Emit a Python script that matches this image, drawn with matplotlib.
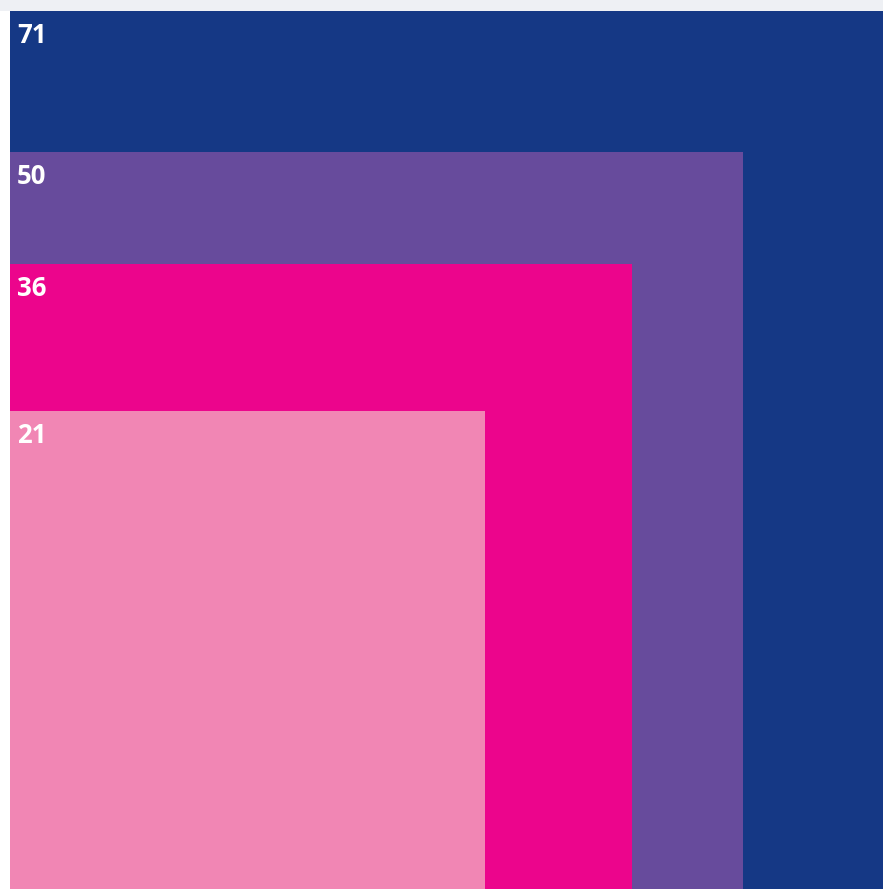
import numpy as np
import matplotlib.pyplot as plt
from matplotlib.patches import Rectangle

# values shown on the nested squares, largest first
values = [71, 50, 36, 21]
colors = ['#153885', '#674b9c', '#ec058c', '#f186b4']
labels = [str(v) for v in values]

W, H = 883, 889
fig = plt.figure(figsize=(W / 100, H / 100), dpi=100)
fig.patch.set_facecolor('white')

# thin grey band along the top
band = fig.add_axes([0, 1 - 11 / H, 1, 11 / H])
band.set_facecolor('#eef0f4')
band.set_xticks([])
band.set_yticks([])
for s in band.spines.values():
    s.set_visible(False)

ax = fig.add_axes([10 / W, 0, 873 / W, 878 / H])
side_max = np.sqrt(max(values))
ax.set_xlim(0, side_max)
ax.set_ylim(0, side_max)
ax.axis('off')

# square area follows the value
for v, c, lab in zip(values, colors, labels):
    side = np.sqrt(v)
    ax.add_patch(Rectangle((0, 0), side, side, facecolor=c, edgecolor='none'))
    ax.annotate(lab, xy=(0, side), xytext=(7, -11), textcoords='offset pixels',
                ha='left', va='top', color='white', fontsize=18.5,
                fontweight='bold', family='Open Sans')

fig.savefig('out.png', dpi=100)
